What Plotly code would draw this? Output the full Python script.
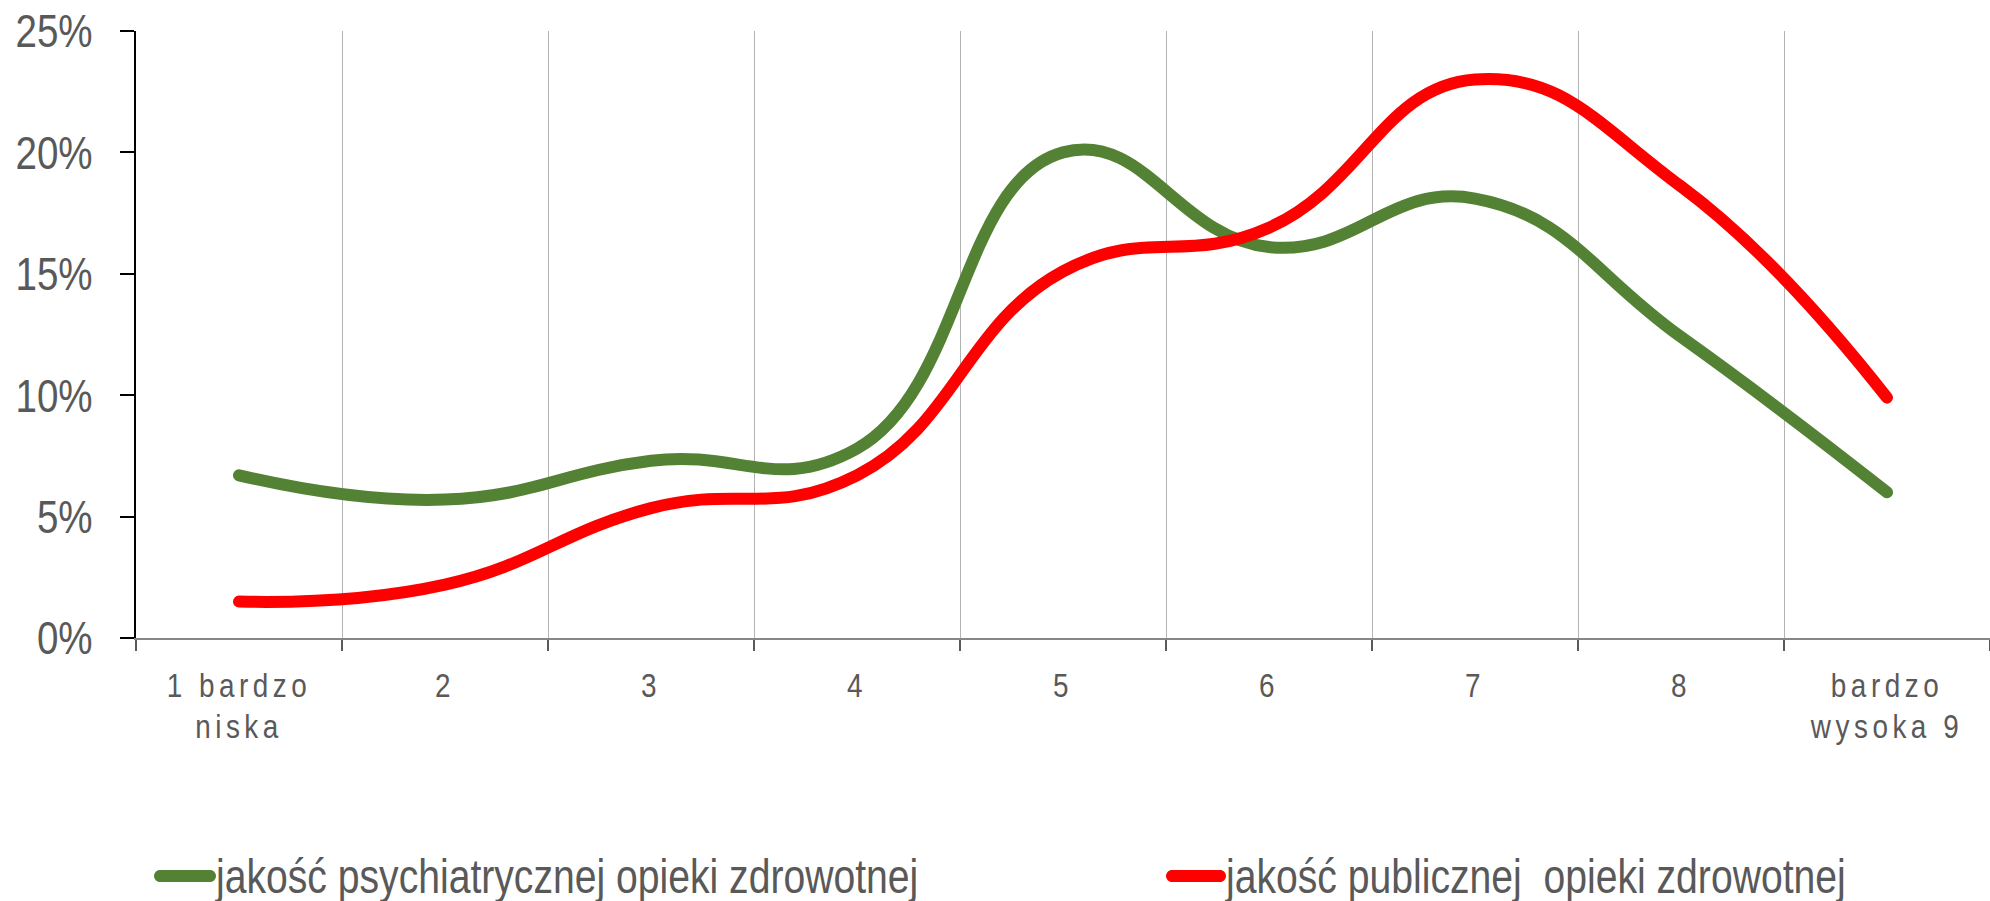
import plotly.graph_objects as go

# Ocena jakości opieki zdrowotnej, skala 1-9 (odsetek odpowiedzi, %)
categories = ["1 bardzo<br>niska", "2", "3", "4", "5", "6", "7", "8", "bardzo<br>wysoka 9"]
psychiatric = [6.7, 5.7, 7.3, 7.8, 20.0, 16.1, 18.1, 12.4, 6.0]
public = [1.5, 2.2, 5.35, 6.7, 15.1, 16.9, 23.0, 18.6, 9.9]
series_names = ["jakość psychiatrycznej opieki zdrowotnej",
                "jakość publicznej\u00a0 opieki zdrowotnej"]
y_ticks = [0, 5, 10, 15, 20, 25]
y_labels = ["0%", "5%", "10%", "15%", "20%", "25%"]

GREEN = "#548235"
RED = "#FF0000"
TEXT = "#595959"
FONT = "Liberation Sans, Arial, sans-serif"
colors = [GREEN, RED]

W, H = 1990, 901
M_L, M_R, M_T, M_B = 136, 0, 31, 263
PLOT_W, PLOT_H = W - M_L - M_R, H - M_T - M_B


def px_to_paper(px, py):
    """Page pixel position -> paper coordinates of the plot area."""
    return (px - M_L) / PLOT_W, (H - M_B - py) / PLOT_H


def pill_path(x0, x1, yc, r):
    """Rounded swatch (pill) from x0 to x1 at height yc, radius r, in page pixels."""
    k = 0.5523 * r
    pts = [
        ("M", [(x0 + r, yc - r)]),
        ("L", [(x1 - r, yc - r)]),
        ("C", [(x1 - r + k, yc - r), (x1, yc - k), (x1, yc)]),
        ("C", [(x1, yc + k), (x1 - r + k, yc + r), (x1 - r, yc + r)]),
        ("L", [(x0 + r, yc + r)]),
        ("C", [(x0 + r - k, yc + r), (x0, yc + k), (x0, yc)]),
        ("C", [(x0, yc - k), (x0 + r - k, yc - r), (x0 + r, yc - r)]),
    ]
    out = []
    for cmd, ps in pts:
        coords = " ".join("%.6f,%.6f" % px_to_paper(px, py) for px, py in ps)
        out.append(cmd + coords)
    return " ".join(out) + " Z"


fig = go.Figure()
for name, vals, color in zip(series_names, [psychiatric, public], colors):
    fig.add_trace(go.Scatter(
        x=categories, y=vals, name=name, mode="lines", showlegend=False,
        line=dict(color=color, width=12, shape="spline", smoothing=1.3),
        hoverinfo="skip",
    ))

# legend row under the chart: swatch + label for each series
legend_text_x = [213, 1223]
legend_swatch = [(154, 216), (1166, 1226)]
legend_y = 876
for name, color, tx, (sx0, sx1) in zip(series_names, colors, legend_text_x, legend_swatch):
    fig.add_shape(type="path", xref="paper", yref="paper", layer="above",
                  path=pill_path(sx0, sx1, legend_y, 6),
                  fillcolor=color, line=dict(width=0))
    ax, ay = px_to_paper(tx, legend_y)
    fig.add_annotation(x=ax, y=ay, xref="paper", yref="paper",
                       xanchor="left", yanchor="middle", align="left",
                       text=name, showarrow=False, borderpad=0,
                       font=dict(family=FONT, size=48, color=TEXT))

n = len(categories)
fig.update_layout(
    width=W, height=H,
    margin=dict(l=M_L, r=M_R, t=M_T, b=M_B, autoexpand=False),
    paper_bgcolor="white", plot_bgcolor="white",
    showlegend=False,
    xaxis=dict(
        type="category", categoryorder="array", categoryarray=categories,
        range=[-0.5, n - 0.5], tickson="boundaries",
        showgrid=True, gridcolor="#B4B4B4", gridwidth=1,
        showline=True, linecolor="#878787", linewidth=2,
        ticks="outside", ticklen=11, tickwidth=2, tickcolor="#595959",
        tickfont=dict(family=FONT, size=34, color=TEXT),
        ticklabelstandoff=16,
        zeroline=False, fixedrange=True,
    ),
    yaxis=dict(
        range=[0, 25], tickvals=y_ticks, ticktext=y_labels,
        showgrid=False, zeroline=False,
        showline=True, linecolor="black", linewidth=2,
        ticks="outside", ticklen=14, tickwidth=2, tickcolor="black",
        tickfont=dict(family=FONT, size=47, color=TEXT),
        ticklabelstandoff=18, fixedrange=True,
    ),
    # companion axes giving the tick marks their inner half
    xaxis2=dict(
        overlaying="x", anchor="y", side="bottom",
        range=[-0.5, n - 0.5], tickvals=[i - 0.5 for i in range(n + 1)],
        ticks="inside", ticklen=11, tickwidth=2, tickcolor="#595959",
        showticklabels=False, showgrid=False, showline=False, zeroline=False,
        fixedrange=True,
    ),
    yaxis2=dict(
        overlaying="y", anchor="x", side="left",
        range=[0, 25], tickvals=y_ticks,
        ticks="inside", ticklen=15, tickwidth=2, tickcolor="black",
        showticklabels=False, showgrid=False, showline=False, zeroline=False,
        fixedrange=True,
    ),
)

# Narrow lettering: squeeze Liberation Sans horizontally to Arial Narrow proportions,
# give the category labels their airy tracking and round the line ends.
post = """
var gd = document.getElementById('{plot_id}');
function natLen(el) {
  var L = 0;
  try { L = el.getComputedTextLength(); } catch (e) {}
  if (!(L > 0)) { try { L = el.getBBox().width; } catch (e) {} }
  return L;
}
function squeeze(el, r) {
  var txt = el.textContent;
  if (!txt) return;
  if (el.getAttribute('data-nattext') !== txt) {
    el.removeAttribute('textLength');
    var L = natLen(el);
    if (!(L > 0)) return;
    el.setAttribute('data-natlen', L);
    el.setAttribute('data-nattext', txt);
  }
  var target = (parseFloat(el.getAttribute('data-natlen')) * r).toFixed(2);
  if (el.getAttribute('textLength') !== target) {
    el.setAttribute('textLength', target);
    el.setAttribute('lengthAdjust', 'spacingAndGlyphs');
  }
}
function squeezeText(t, r) {
  var lines = t.querySelectorAll('tspan.line');
  if (lines.length) { lines.forEach(function(s){ squeeze(s, r); }); }
  else { squeeze(t, r); }
}
function safe(f) { try { f(); } catch (e) {} }
function fix() {
  safe(function(){
    gd.querySelectorAll('.scatterlayer path.js-line').forEach(function(p){
      if (p.style.strokeLinecap !== 'round') { p.style.strokeLinecap = 'round'; p.style.strokeLinejoin = 'round'; }
    });
  });
  safe(function(){
    gd.querySelectorAll('.xaxislayer-above .xtick text').forEach(function(t){
      if (t.style.letterSpacing !== '5.5px') t.style.letterSpacing = '5.5px';
      t.querySelectorAll('tspan.line').forEach(function(s, i){
        if (i > 0 && s.getAttribute('dy') !== '1.2em') s.setAttribute('dy', '1.2em');
      });
      squeezeText(t, 0.82);
    });
  });
  safe(function(){
    gd.querySelectorAll('.yaxislayer-above .ytick text').forEach(function(t){ squeezeText(t, 0.82); });
  });
  safe(function(){
    gd.querySelectorAll('text.annotation-text').forEach(function(t){ squeezeText(t, 0.815); });
  });
}
fix();
new MutationObserver(function(){ fix(); }).observe(gd, {
  childList: true, subtree: true, characterData: true,
  attributes: true, attributeFilter: ['d', 'transform', 'x', 'y', 'class']
});
if (gd.on) gd.on('plotly_afterplot', fix);
"""

fig.write_html("out.html", config={"displayModeBar": False, "staticPlot": True},
               post_script=post)
